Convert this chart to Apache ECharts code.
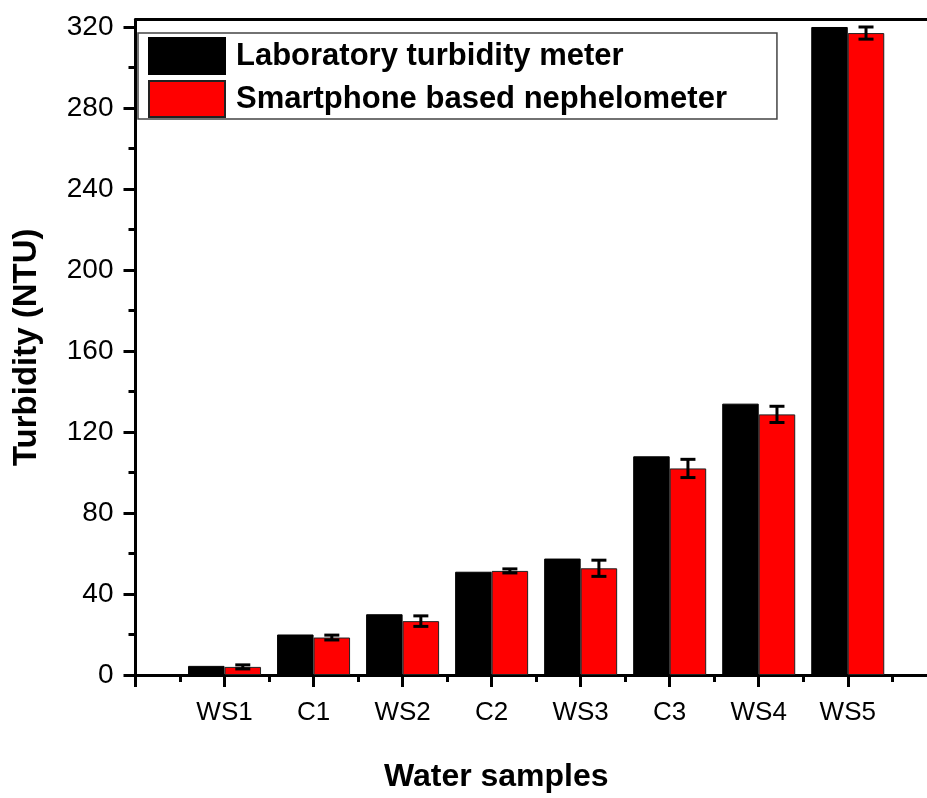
<!DOCTYPE html>
<html>
<head>
<meta charset="utf-8">
<title>Turbidity</title>
<script src="https://cdn.jsdelivr.net/npm/echarts@6/dist/echarts.min.js"></script>
<style>
  html, body { margin: 0; padding: 0; background: #fff; }
  #chart { width: 927px; height: 798px; }
</style>
</head>
<body>
<div id="chart"></div>
<script>
// 样品名称 (x位置 1..8)
var samples = ['WS1', 'C1', 'WS2', 'C2', 'WS3', 'C3', 'WS4', 'WS5'];
var samplePos = [1, 2, 3, 4, 5, 6, 7, 8];
// 实验室浊度计
var labValues = [4.5, 20, 30, 51, 57.5, 108, 134, 320];
// 智能手机浊度计 + 误差
var phoneValues = [4, 18.5, 26.6, 51.4, 52.7, 102, 128.7, 317];
var phoneErrors = [1, 1.2, 2.6, 1, 4, 4.5, 4, 3];
// 刻度
var yTicks = [0, 40, 80, 120, 160, 200, 240, 280, 320];
var yMinorTicks = [20, 60, 100, 140, 180, 220, 260, 300];
var xTicks = [0, 1, 2, 3, 4, 5, 6, 7, 8];
var xMinorTicks = [0.5, 1.5, 2.5, 3.5, 4.5, 5.5, 6.5, 7.5, 8.5];

var FONT = "'Liberation Sans', Arial, sans-serif";
var BAR_W = 36.5;

function pairs(vals) {
  return vals.map(function (v, i) { return [samplePos[i], v]; });
}

var errData = phoneValues.map(function (v, i) {
  return [samplePos[i], v, phoneErrors[i]];
});

var chart = echarts.init(document.getElementById('chart'));

var option = {
  backgroundColor: '#fff',
  animation: false,
  grid: { left: 135.5, right: 0, top: 19.5, bottom: 121 },
  legend: {
    orient: 'vertical',
    left: 138, top: 33,
    itemWidth: 76, itemHeight: 36, itemGap: 5,
    padding: [4, 50, 1, 10],
    borderColor: '#444', borderWidth: 1.5,
    backgroundColor: '#fff',
    selectedMode: false,
    icon: 'rect',
    data: ['Laboratory turbidity meter', 'Smartphone based nephelometer'],
    textStyle: {
      fontFamily: FONT, fontSize: 31, fontWeight: 'bold', color: '#000',
      padding: [0, 0, 0, 6]
    }
  },
  xAxis: [
    {
      type: 'value', min: 0, max: 8.89, position: 'bottom',
      name: 'Water samples', nameLocation: 'middle', nameGap: 86,
      nameTextStyle: {
        fontFamily: FONT, fontSize: 32, fontWeight: 'bold', color: '#000',
        padding: [0, 70, 0, 0]
      },
      splitLine: { show: false },
      axisLine: { show: true, onZero: false, lineStyle: { color: '#000', width: 3 } },
      axisTick: { show: true, length: 12, lineStyle: { color: '#000', width: 3 }, customValues: xTicks },
      axisLabel: {
        customValues: samplePos, margin: 25,
        fontFamily: FONT, fontSize: 26, color: '#000',
        formatter: function (v) { return samples[Math.round(v) - 1] || ''; }
      }
    },
    {
      type: 'value', min: 0, max: 8.89, position: 'bottom',
      splitLine: { show: false },
      axisLine: { show: false },
      axisLabel: { show: false },
      axisTick: { show: true, length: 7, lineStyle: { color: '#000', width: 3 }, customValues: xMinorTicks }
    },
    {
      type: 'value', min: 0, max: 8.89, position: 'top',
      splitLine: { show: false },
      axisLine: { show: true, onZero: false, lineStyle: { color: '#000', width: 3 } },
      axisLabel: { show: false },
      axisTick: { show: false }
    }
  ],
  yAxis: [
    {
      type: 'value', min: 0, max: 323.7, position: 'left',
      name: 'Turbidity (NTU)', nameLocation: 'middle', nameGap: 92,
      nameTextStyle: { fontFamily: FONT, fontSize: 33, fontWeight: 'bold', color: '#000' },
      splitLine: { show: false },
      axisLine: { show: true, onZero: false, lineStyle: { color: '#000', width: 3 } },
      axisTick: { show: true, length: 12, lineStyle: { color: '#000', width: 3 }, customValues: yTicks },
      axisLabel: {
        customValues: yTicks, margin: 22,
        fontFamily: FONT, fontSize: 28, color: '#000'
      }
    },
    {
      type: 'value', min: 0, max: 323.7, position: 'left',
      splitLine: { show: false },
      axisLine: { show: false },
      axisLabel: { show: false },
      axisTick: { show: true, length: 7, lineStyle: { color: '#000', width: 3 }, customValues: yMinorTicks }
    }
  ],
  series: [
    {
      name: 'Laboratory turbidity meter',
      type: 'bar', xAxisIndex: 0, yAxisIndex: 0,
      barWidth: BAR_W, barGap: '0%',
      itemStyle: { color: '#000', borderColor: '#000', borderWidth: 1 },
      data: pairs(labValues)
    },
    {
      name: 'Smartphone based nephelometer',
      type: 'bar', xAxisIndex: 0, yAxisIndex: 0,
      barWidth: BAR_W, barGap: '0%',
      itemStyle: { color: '#ff0000', borderColor: '#222', borderWidth: 1 },
      data: pairs(phoneValues)
    },
    {
      // 误差棒
      type: 'custom', xAxisIndex: 0, yAxisIndex: 0,
      silent: true, z: 5,
      data: errData,
      renderItem: function (params, api) {
        var x = api.value(0), y = api.value(1), e = api.value(2);
        var hi = api.coord([x, y + e]);
        var lo = api.coord([x, y - e]);
        var cx = hi[0] + BAR_W / 2;
        var cap = 7.5;
        var st = { stroke: '#000', lineWidth: 3 };
        return {
          type: 'group',
          children: [
            { type: 'line', shape: { x1: cx, y1: hi[1], x2: cx, y2: lo[1] }, style: st },
            { type: 'line', shape: { x1: cx - cap, y1: hi[1], x2: cx + cap, y2: hi[1] }, style: st },
            { type: 'line', shape: { x1: cx - cap, y1: lo[1], x2: cx + cap, y2: lo[1] }, style: st }
          ]
        };
      }
    }
  ]
};

chart.setOption(option);
</script>
</body>
</html>
